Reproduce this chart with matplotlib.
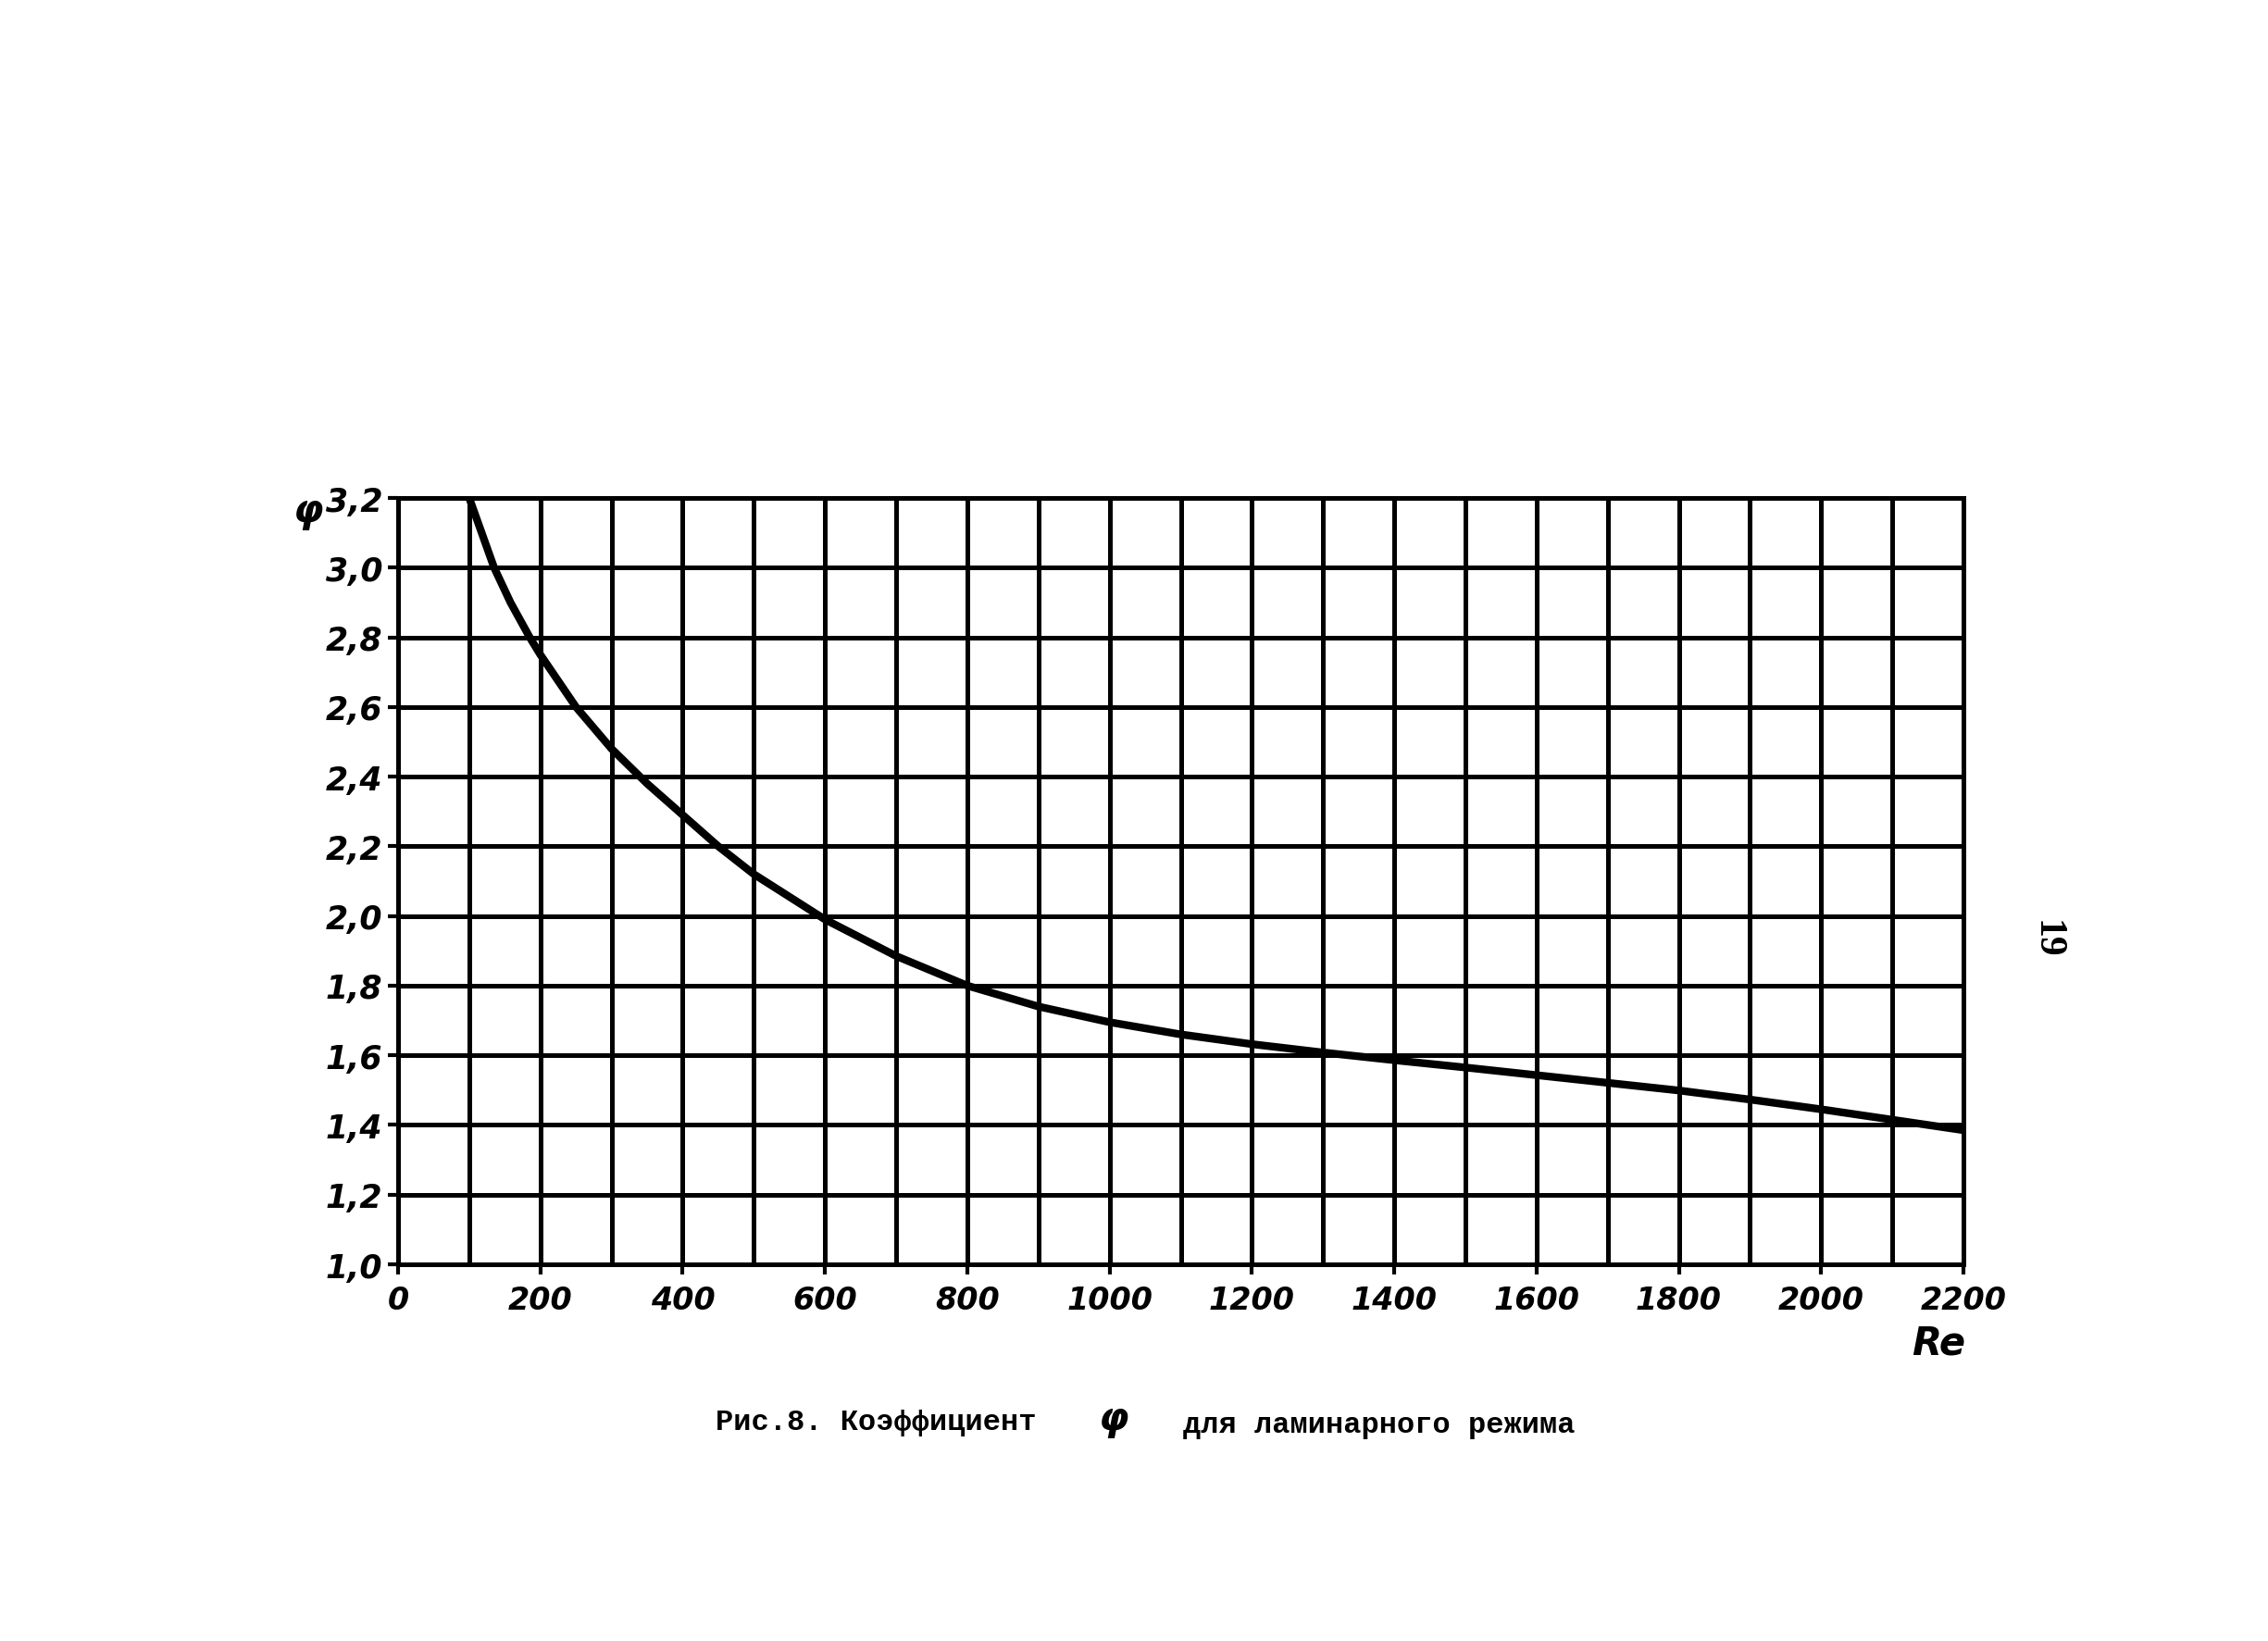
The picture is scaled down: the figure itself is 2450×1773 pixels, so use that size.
import matplotlib
matplotlib.use("Agg")
import matplotlib.pyplot as plt

# Data
re_vals = [100, 114, 135, 158, 185, 200, 250, 300, 350, 400, 450, 500, 600,
           700, 800, 900, 1000, 1100, 1200, 1300, 1400, 1500, 1600, 1700,
           1800, 1900, 2000, 2100, 2200]
phi_vals = [3.2, 3.12, 3.0, 2.9, 2.8, 2.75, 2.6, 2.48, 2.38, 2.29, 2.20, 2.12,
            1.99, 1.885, 1.80, 1.74, 1.695, 1.66, 1.632, 1.608, 1.586, 1.565,
            1.543, 1.521, 1.499, 1.473, 1.445, 1.415, 1.385]

x_ticks = [0, 200, 400, 600, 800, 1000, 1200, 1400, 1600, 1800, 2000, 2200]
x_tick_labels = ["0", "200", "400", "600", "800", "1000", "1200", "1400",
                 "1600", "1800", "2000", "2200"]
y_ticks = [1.0, 1.2, 1.4, 1.6, 1.8, 2.0, 2.2, 2.4, 2.6, 2.8, 3.0, 3.2]
y_tick_labels = ["1,0", "1,2", "1,4", "1,6", "1,8", "2,0", "2,2", "2,4",
                 "2,6", "2,8", "3,0", "3,2"]
caption_left = "Рис.8. Коэффициент"
caption_right = "для ламинарного режима"
page_number = "19"

W, H = 2450, 1774
fig = plt.figure(figsize=(W / 100, H / 100), dpi=100)
fig.patch.set_facecolor("white")

ax = fig.add_axes([430 / W, 1 - 1367 / H, 1691 / W, 828 / H])
ax.set_xlim(0, 2200)
ax.set_ylim(1.0, 3.2)

# grid
for xv in range(0, 2201, 100):
    ax.axvline(xv, color="black", lw=3.6, zorder=1)
for yv in y_ticks:
    ax.axhline(yv, color="black", lw=3.6, zorder=1)

ax.plot(re_vals, phi_vals, color="black", lw=6, solid_capstyle="butt",
        solid_joinstyle="round", zorder=3)

for s in ax.spines.values():
    s.set_linewidth(3.6)
    s.set_color("black")

tick_font = dict(family="DejaVu Sans", style="italic", weight="bold")
ax.set_xticks(x_ticks)
ax.set_xticklabels(x_tick_labels, fontsize=24, **tick_font)
ax.set_yticks(y_ticks)
ax.set_yticklabels(y_tick_labels, fontsize=25, **tick_font)
ax.tick_params(axis="both", length=8, width=3, color="black", direction="out")
ax.tick_params(axis="x", pad=8)
ax.tick_params(axis="y", pad=4)

# axis symbols
fig.text(333 / W, 1 - 552 / H, "φ", fontsize=30, ha="center", va="center",
         family="DejaVu Sans", style="italic", weight="bold")
fig.text(2094 / W, 1 - 1452 / H, "Re", fontsize=30, ha="center", va="center",
         family="DejaVu Sans", style="italic", weight="bold")

# caption
fig.text(773 / W, 1 - 1537 / H, caption_left, fontsize=23, ha="left",
         va="center", family="Liberation Mono", weight="bold")
fig.text(1203 / W, 1 - 1533 / H, "φ", fontsize=30, ha="center", va="center",
         family="DejaVu Sans", style="italic", weight="bold")
fig.text(1278 / W, 1 - 1540 / H, caption_right, fontsize=23, ha="left",
         va="center", family="Liberation Mono", weight="bold")

# page number
fig.text(2211 / W, 1 - 1015 / H, page_number, fontsize=30, ha="center",
         va="center", rotation=-90, family="Liberation Serif", weight="bold")

fig.savefig("out.png", dpi=100, facecolor="white")
